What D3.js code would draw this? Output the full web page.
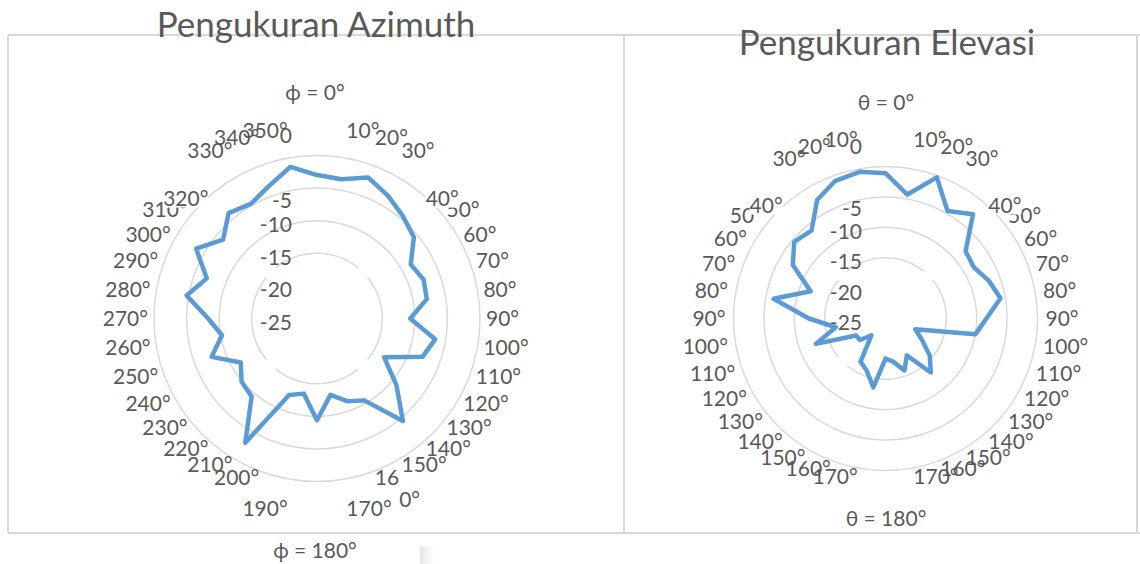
<!DOCTYPE html>
<html>
<head>
<meta charset="utf-8">
<script src="https://cdn.jsdelivr.net/npm/d3@7"></script>
<style>
    body { margin: 0; background: #fff; }
    svg text { font-family: Lato, "Open Sans", sans-serif; fill: #595959; }
</style>
</head>
<body>
<svg id="chart" width="1140" height="564"></svg>
<script>
// category labels as they appear round each plot ("" = no label drawn)
const azimuthLabels = ["", "10°", "20°", "30°", "40°", "50°", "60°", "70°", "80°", "90°",
    "100°", "110°", "120°", "130°", "140°", "150°", "16\n0°", "170°", "",
    "190°", "200°", "210°", "220°", "230°", "240°", "250°", "260°", "270°",
    "280°", "290°", "300°", "310°", "320°", "330°", "340°", "350°"];
const azimuthValues = [-3.0, -3.3, -2.0, -3.25, -4.5, -5.6, -8.4, -7.6, -7.9, -10.7,
    -6.6, -7.8, -13.1, -9.1, -4.5, -10.5, -11.5, -13.1, -9.4,
    -13.3, -12.5, -3.0, -9.4, -9.9, -11.5, -7.8, -10.2, -8.3,
    -4.7, -7.0, -3.6, -6.2, -3.9, -4.7, -3.4, -1.4];

const elevasiLabels = ["", "10°", "20°", "30°", "40°", "50°", "60°", "70°", "80°", "90°",
    "100°", "110°", "120°", "130°", "140°", "150°", "160°", "170°", "",
    "170°", "160°", "150°", "140°", "130°", "120°", "110°", "100°", "90°",
    "80°", "70°", "60°", "50°", "40°", "30°", "20°", "10°"];
const elevasiValues = [-1.1, -4.3, -0.3, -4.6, -2.6, -7.8, -8.2, -6.9, -5.8, -8.4,
    -10.0, -19.8, -18.1, -15.5, -13.4, -18.0, -15.9, -17.8, -18.4,
    -13.5, -15.9, -16.8, -21.4, -19.5, -19.4, -12.8, -16.7, -12.4,
    -6.3, -11.9, -7.4, -5.4, -6.1, -2.5, -0.9, -0.5];

const valueTicks = [0, -5, -10, -15, -20, -25];
const gridRings = [0, -5, -10, -15];
const valueDomain = [-25, 0];

const charts = [
    {labels: azimuthLabels, values: azimuthValues, cx: 317, cy: 318.5, rOuter: 163, labelR: 169,
     bottomPush: 24, title: "Pengukuran Azimuth", titleX: 316, titleY: 37,
     topText: "ϕ = 0°", topY: 92.5, bottomText: "ϕ = 180°", bottomY: 550, valueX: 292},
    {labels: elevasiLabels, values: elevasiValues, cx: 885.5, cy: 318.5, rOuter: 152, labelR: 160,
     bottomPush: 0, title: "Pengukuran Elevasi", titleX: 887, titleY: 55,
     topText: "θ = 0°", topY: 102, bottomText: "θ = 180°", bottomY: 518, valueX: 862},
];

const svg = d3.select("#chart");
svg.append("rect").attr("width", 1140).attr("height", 564).attr("fill", "#fff");

// frame round both charts
const frame = svg.append("g").attr("fill", "none").attr("stroke", "#d9d9d9").attr("stroke-width", 2);
frame.append("line").attr("x1", 8).attr("x2", 1140).attr("y1", 35).attr("y2", 35);
frame.append("line").attr("x1", 8).attr("x2", 1140).attr("y1", 533).attr("y2", 533);
frame.append("line").attr("x1", 8).attr("x2", 8).attr("y1", 35).attr("y2", 533);
frame.append("line").attr("x1", 624).attr("x2", 624).attr("y1", 35).attr("y2", 533);
frame.append("line").attr("x1", 1137).attr("x2", 1137).attr("y1", 35).attr("y2", 533);

// faint shadow remains under the frame
const grad = svg.append("defs").append("linearGradient").attr("id", "shade");
grad.append("stop").attr("offset", 0).attr("stop-color", "#e6e6e6");
grad.append("stop").attr("offset", 1).attr("stop-color", "#fff");
svg.append("rect").attr("x", 420).attr("y", 546).attr("width", 14).attr("height", 18).attr("fill", "url(#shade)");

function labelShift(deg, bottomPush) {
    if ((deg > 0 && deg <= 30) || (deg >= 330 && deg < 360)) return -22;
    if (deg === 40 || deg === 320) return 9;
    if (deg === 170 || deg === 190) return bottomPush;
    return 0;
}

function valueShift(v) {
    if (v === 0) return -20;
    if (v === -5) return 12;
    return 4;
}

charts.forEach(c => {
    const n = c.values.length;
    const angle = d3.scaleLinear().domain([0, n]).range([0, 2 * Math.PI]);
    const r = d3.scaleLinear().domain(valueDomain).range([0, c.rOuter]);

    svg.append("text")
        .attr("x", c.titleX).attr("y", c.titleY)
        .attr("text-anchor", "middle")
        .style("font-size", "35px")
        .text(c.title);

    const g = svg.append("g").attr("transform", `translate(${c.cx},${c.cy})`);

    // grid rings; the innermost one is broken on the diagonals
    const grid = g.append("g").attr("fill", "none").attr("stroke", "#d9d9d9").attr("stroke-width", 1.5);
    gridRings.forEach((v, i) => {
        if (i < gridRings.length - 1) {
            grid.append("circle").attr("r", r(v));
        } else {
            const arc = d3.arc().innerRadius(r(v)).outerRadius(r(v));
            [0, 1, 2, 3].forEach(k => {
                grid.append("path").attr("d", arc({
                    startAngle: (k * 90 - 39) * Math.PI / 180,
                    endAngle: (k * 90 + 39) * Math.PI / 180
                }));
            });
        }
    });

    // category labels drawn from the bottom up; the 40° ones sit on a white box
    const cats = c.labels.map((label, i) => ({label, i, a: angle(i)}))
        .filter(d => d.label !== "")
        .sort((p, q) => Math.cos(p.a) - Math.cos(q.a));

    const catG = g.append("g").style("font-size", "21px");
    cats.forEach(d => {
        const deg = Math.round(d.a * 180 / Math.PI);
        const s = Math.sin(d.a);
        const ax = c.labelR * s;
        const ay = -c.labelR * Math.cos(d.a) + labelShift(deg, c.bottomPush);
        const anchor = s > 0.01 ? "start" : (s < -0.01 ? "end" : "middle");
        const lg = catG.append("g");
        const box = lg.append("rect").attr("fill", "#fff");
        const lines = d.label.split("\n");
        const t = lg.append("text")
            .attr("x", ax).attr("y", ay).attr("dy", "0.36em")
            .attr("text-anchor", anchor)
            .text(lines[0]);
        if (lines.length > 1) {
            const w = t.node().getComputedTextLength();
            lg.append("text")
                .attr("x", ax + w).attr("y", ay + 22).attr("dy", "0.36em")
                .text(lines[1]);
        }
        if (deg === 40 || deg === 320) {
            const bb = t.node().getBBox();
            box.attr("x", bb.x).attr("y", bb.y + 2).attr("width", bb.width).attr("height", bb.height - 4);
        } else {
            box.remove();
        }
    });

    // value axis labels
    g.append("g").style("font-size", "21px")
        .selectAll("text").data(valueTicks).join("text")
        .attr("x", c.valueX - c.cx)
        .attr("y", v => -r(v) + valueShift(v))
        .attr("dy", "0.36em")
        .attr("text-anchor", "end")
        .text(v => v);

    const line = d3.lineRadial()
        .angle((v, i) => angle(i))
        .radius(v => r(v))
        .curve(d3.curveLinearClosed);

    g.append("path")
        .datum(c.values)
        .attr("d", line)
        .attr("fill", "none")
        .attr("stroke", "#5b9bd5")
        .attr("stroke-width", 4.5)
        .attr("stroke-linejoin", "round");

    svg.append("text").attr("x", c.titleX - 1).attr("y", c.topY).attr("dy", "0.36em")
        .attr("text-anchor", "middle").style("font-size", "21px").text(c.topText);
    svg.append("text").attr("x", c.titleX - 1).attr("y", c.bottomY).attr("dy", "0.36em")
        .attr("text-anchor", "middle").style("font-size", "21px").text(c.bottomText);
});
</script>
</body>
</html>
